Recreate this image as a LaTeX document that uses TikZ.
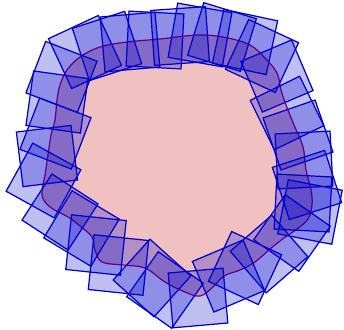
\documentclass[tikz,border=0pt]{standalone}
\usepackage{tikz}
\usetikzlibrary{positioning}

\definecolor{blobfill}{RGB}{241,193,194}
\definecolor{blobline}{RGB}{165,0,90}
\definecolor{tileblue}{RGB}{0,0,205}

\begin{document}
\begin{tikzpicture}[
  x=0.02cm, y=-0.02cm,
  region/.style={draw=blobline, fill=blobfill, line width=0.7pt},
  tile/.style={rectangle, draw=tileblue, fill=tileblue, fill opacity=0.25, draw opacity=1, line width=0.7pt, minimum size=1.1cm, inner sep=0pt}
]
\useasboundingbox (0,0) rectangle (344,329);

% the region
\draw[region] plot[smooth cycle, tension=0.6] coordinates {
  (55,120) (57,100) (60,85) (67,70) (80,57) (100,47) (127,42) (160,39)
  (185,36) (205,35) (228,38) (250,45) (265,58) (277,73) (281,90) (286,105)
  (294,125) (303,147) (306,170) (311,190) (312,205) (308,219) (297,229)
  (284,238) (270,249) (255,262) (240,270) (224,276) (213,287) (200,296)
  (185,292) (165,282) (145,268) (123,265) (102,262) (95,250) (92,237)
  (80,226) (68,217) (50,207) (42,195) (45,175) (48,155) (51,135)};

% tiles along the boundary
\foreach \x/\y/\a [count=\i] in {
  96/245/6, 81.5/228.5/31, 60/212/33, 43.5/180.5/29, 47/156/-7,
  55.5/133.5/21, 57/102/8, 61.5/77/21, 85/52/-25, 107/46/-18,
  130/42/-5, 155/40/3, 180/36/-4, 200/35/10, 222/37/17,
  245/42/12, 262/56/25, 277/76/-23, 287/113/-26, 298/135/-19,
  304/160/-3, 307/185/-18, 303/203/3, 310/212/11, 292/233/35,
  269/254/-41, 245/268/25, 228.5/276/-23, 198/298/-5, 165/290/35,
  152/278/42, 118.5/265/6}
  \node[tile, rotate=-\a] (t\i) at (\x,\y) {};
\end{tikzpicture}
\end{document}
